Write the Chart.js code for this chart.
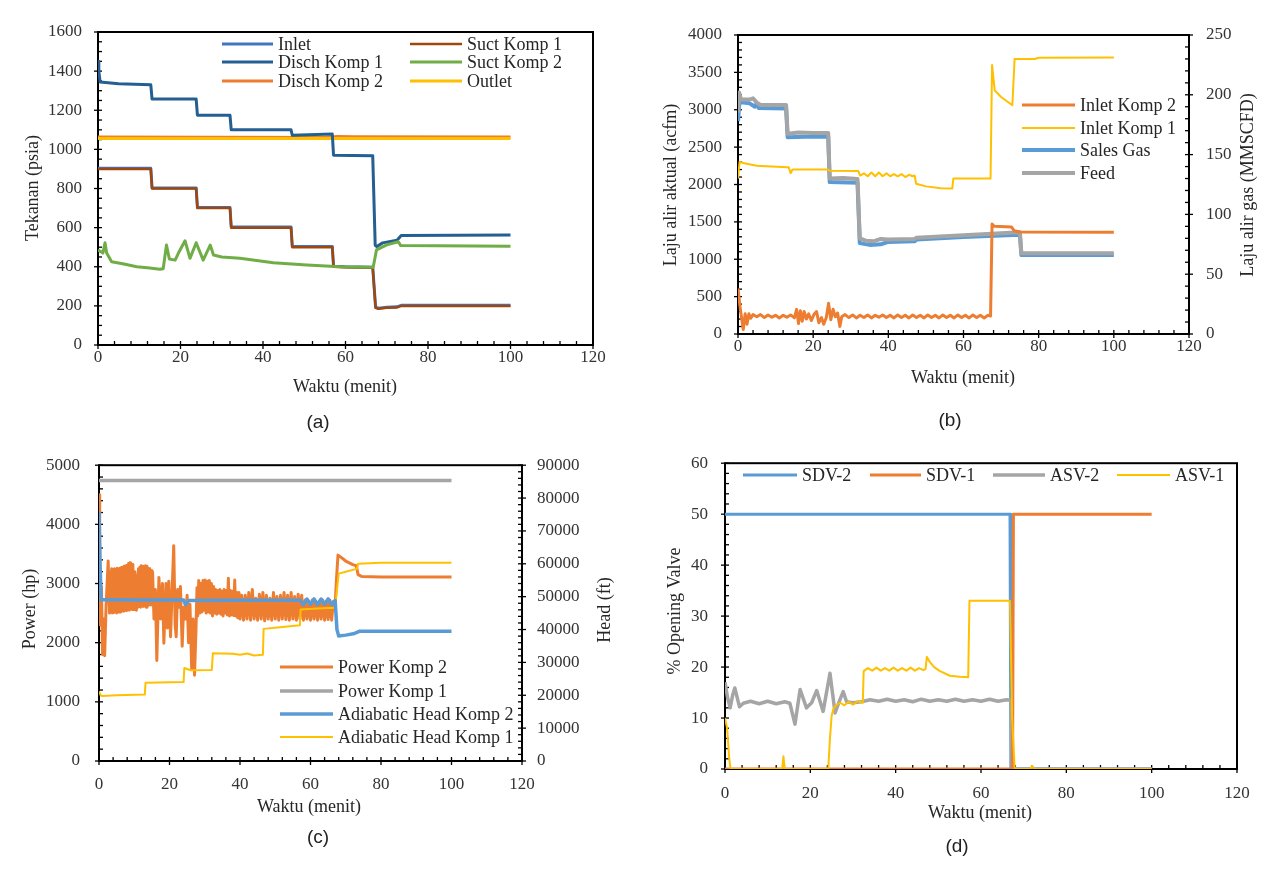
<!DOCTYPE html>
<html lang="id">
<head>
<meta charset="UTF-8" />
<title>Respon tekanan, laju alir, power dan bukaan valve</title>
<script src="https://cdn.jsdelivr.net/npm/chart.js"></script>
<style>
  body { margin: 0; background: #fff; }
  #wrap { position: relative; width: 1267px; height: 873px; background: #fff; overflow: hidden; }
  canvas { position: absolute; }
  .lbl { position: absolute; transform: translate(-50%, -50%); font: 19px 'Liberation Sans', Arial, sans-serif; color: #222; }
</style>
</head>
<body>
<div id="wrap">
  <canvas id="ca" width="633" height="436" style="left:0;top:0"></canvas>
  <canvas id="cb" width="634" height="436" style="left:633px;top:0"></canvas>
  <canvas id="cc" width="633" height="437" style="left:0;top:436px"></canvas>
  <canvas id="cd" width="634" height="437" style="left:633px;top:436px"></canvas>
  <div class="lbl" style="left:318px;top:422px">(a)</div>
  <div class="lbl" style="left:950px;top:420px">(b)</div>
  <div class="lbl" style="left:318px;top:837px">(c)</div>
  <div class="lbl" style="left:957px;top:846px">(d)</div>
</div>
<script>
const SERIF = "'Liberation Serif', 'Times New Roman', serif";

// ---------- (a) tekanan, psia ----------
const aDischK1 = [[0,1450],[0.2,1400],[0.5,1345],[5,1335],[12.8,1330],[13.1,1257],[23.8,1257],[24.1,1175],[32,1174],[32.3,1100],[46.8,1100],[47.1,1072],[56.8,1078],[57.1,970],[66.6,968],[67.2,510],[67.6,503],[69,522],[72.5,535],[73.5,560],[100,562]];
const aInlet = [[0,903],[12.8,903],[13.1,803],[23.8,803],[24.1,703],[32,703],[32.3,603],[46.8,603],[47.1,503],[56.8,503],[57.1,403],[60,400],[66.6,398],[67.3,193],[68,188],[70,193],[72.5,195],[73.5,203],[100,203]];
const aSuctK1 = [[0,900],[12.8,900],[13.1,800],[23.8,800],[24.1,700],[32,700],[32.3,600],[46.8,600],[47.1,500],[56.8,500],[57.1,400],[60,398],[66.6,395],[67.3,190],[68,185],[70,190],[72.5,192],[73.5,200],[100,200]];
const aSuctK2 = [[0,486],[1.2,470],[1.7,523],[2.1,470],[3.3,426],[6,415],[9.4,400],[12,395],[15,387],[15.8,390],[16.6,511],[17.3,440],[18.7,434],[19.5,470],[21.1,533],[22.3,443],[23.8,523],[25.5,434],[27.2,511],[28,460],[30,450],[34.4,443],[42.5,421],[50.6,409],[58.7,400],[66.7,397],[67.1,440],[67.5,486],[70,512],[72.8,528],[73.4,508],[100,505]];
const aDischK2 = [[0,1063],[55,1061],[58,1066],[62,1065],[100,1063]];
const aOutlet = [[0,1056],[50,1055],[100,1055]];

// ---------- (b) laju alir ----------
const bInletK2 = [[0,610],[0.5,380],[1.0,200],[1.4,60],[1.9,270],[2.4,130],[2.9,270],[3.4,210],[4,260],[5,230],[6,260],[7,220],[8,255],[9,225],[10,250],[11,215],[12,250],[13,225],[14,255],[15,215],[15.6,330],[16.1,140],[16.6,310],[17.1,170],[17.6,300],[18.2,200],[18.8,270],[19.5,180],[20.2,260],[20.9,300],[21.5,150],[22.2,220],[22.8,130],[23.5,220],[24.1,410],[24.7,190],[25.3,330],[25.9,230],[26.5,280],[27.1,100],[27.6,230],[28.5,260],[29.5,220],[30.5,255],[31.5,215],[32.5,250],[33.5,220],[34.5,255],[35.5,215],[36.5,250],[37.5,225],[38.5,255],[39.5,220],[40.5,250],[41.5,215],[42.5,255],[43.5,220],[44.5,250],[45.5,215],[46.5,255],[47.5,220],[48.5,250],[49.5,215],[50.5,255],[51.5,220],[52.5,250],[53.5,215],[54.5,255],[55.5,220],[56.5,250],[57.5,215],[58.5,255],[59.5,220],[60.5,250],[61.5,215],[62.5,255],[63.5,220],[64.5,250],[65.5,215],[66.5,250],[67.2,240],[67.6,1470],[68.2,1440],[72.8,1430],[73.5,1380],[75,1365],[100,1360]];
const bInletK1 = [[0,2080],[0.4,2300],[2,2280],[5,2250],[13,2230],[13.5,2230],[14.0,2150],[14.5,2200],[24,2200],[24.3,2185],[32,2180],[32.5,2120],[33.5,2150],[34.5,2110],[35.5,2160],[36.5,2110],[37.5,2160],[38.5,2110],[39.5,2150],[40.5,2110],[41.5,2140],[42.5,2110],[43.5,2140],[44.5,2100],[45.5,2130],[46.5,2110],[47.0,2120],[47.4,2010],[50,1975],[54,1950],[57.0,1945],[57.3,2080],[67.2,2080],[67.6,3600],[68.3,3260],[70,3170],[73,3060],[73.6,3680],[79,3680],[80,3695],[100,3700]];
const bSalesGas = [[0,178],[0.4,194],[3,193],[4.5,190],[5,193],[5.5,189],[12.8,188.5],[13.2,164.5],[18,165],[24,165],[24.4,127],[31.8,126.5],[32.4,76],[35,74.5],[38,75],[40,77],[47,77.5],[47.5,79],[60,81],[75,83],[75.4,66],[100,66]];
const bFeed = [[0,185],[0.3,202],[0.8,196],[3,196],[4,197],[5,193.5],[6,191.5],[12.8,191.5],[13.2,167.5],[16,168.5],[20,168],[24,168],[24.4,130],[28,130.5],[31.8,129.5],[32.4,80],[34,78],[36,77.5],[38,79.5],[40,79],[47,79.5],[47.5,80.5],[60,82.5],[75,85],[75.4,67.5],[100,67.5]];

// ---------- (c) power (hp) dan head (ft) ----------
const cPowerK2 = [[0,4500],[0.2,3200],[0.4,2300],[0.7,2950],[1.0,1800],[1.3,2400],[1.6,1780],[2.0,2600],[2.6,3380],[3.0,2500],[3.2,3200],[3.4,2520],[3.6,3250],[3.8,2500],[4.0,3220],[4.2,2510],[4.4,3250],[4.6,2530],[4.8,3230],[5.0,2500],[5.2,3260],[5.4,2520],[5.6,3240],[5.8,2550],[6.0,3260],[6.2,2520],[6.4,3270],[6.6,2540],[6.8,3280],[7.0,2530],[7.2,3290],[7.4,2550],[7.6,3300],[7.8,2540],[8.0,3310],[8.2,2560],[8.4,3340],[8.6,2550],[8.8,3350],[9.0,2570],[9.2,3300],[9.4,2560],[9.6,3320],[9.8,2580],[10.0,3200],[10.2,2560],[10.4,3150],[10.6,2550],[10.8,3000],[11.0,2600],[11.2,3250],[11.4,2610],[11.6,3280],[11.8,2600],[12.0,3300],[12.2,2620],[12.4,3290],[12.6,2610],[12.8,3280],[13.0,2620],[13.2,3300],[13.4,2600],[13.6,3290],[13.8,2620],[14.0,3260],[14.2,2640],[14.4,3250],[14.6,2650],[14.8,3220],[15.0,2640],[15.2,3200],[15.6,2400],[16.0,2900],[16.4,1700],[17.0,3100],[17.5,2400],[18.0,3000],[18.4,1990],[19.0,3000],[19.4,2250],[19.8,3040],[20.3,2100],[20.7,2800],[21.2,3640],[21.6,2300],[21.9,2100],[22.3,2900],[22.7,2600],[23.1,2950],[23.6,1940],[24.0,2600],[24.5,2400],[25.0,2800],[25.4,2000],[25.8,2650],[26.3,1550],[26.7,2400],[27.1,1450],[27.5,2200],[27.8,2930],[28.0,2450],[28.3,3050],[28.6,2500],[28.9,3000],[29.2,2520],[29.5,3050],[29.8,2550],[30.1,3060],[30.4,2500],[30.7,3040],[31.0,2520],[31.3,3050],[31.6,2500],[31.9,3000],[32.2,2450],[32.5,2950],[32.8,2500],[33.1,2900],[33.4,2480],[33.7,2880],[34.0,2500],[34.3,2900],[34.6,2480],[34.9,2870],[35.2,2450],[35.5,2900],[35.8,2500],[36.1,2880],[36.4,2470],[36.7,3090],[37.0,2450],[37.3,2880],[37.6,2470],[37.9,2870],[38.2,2460],[38.5,3060],[38.8,2450],[39.1,2850],[39.4,2420],[39.7,2850],[40.0,2400],[40.5,2800],[41.0,2380],[41.5,2800],[42.0,2400],[42.5,2850],[43.0,2380],[43.5,2900],[44.0,2400],[44.5,2750],[45.0,2380],[45.5,2820],[46.0,2400],[46.5,2850],[47.0,2370],[47.5,2800],[48.0,2400],[48.5,2750],[49.0,2380],[49.5,2850],[50.0,2400],[50.5,2780],[51.0,2380],[51.5,2800],[52.0,2400],[52.5,2850],[53.0,2390],[53.5,2800],[54.0,2380],[54.5,2850],[55.0,2400],[55.5,2780],[56.0,2380],[56.5,2820],[57.0,2400],[57.5,2800],[58.0,2380],[58.5,2720],[59.0,2400],[59.5,2700],[60.0,2380],[60.5,2720],[61.0,2400],[61.5,2700],[62.0,2380],[62.5,2700],[63.0,2400],[63.5,2720],[64.0,2380],[64.5,2700],[65.0,2390],[65.5,2720],[66.0,2380],[66.5,2700],[67.0,2650],[67.4,3100],[67.8,3480],[68.5,3450],[70.0,3380],[72.0,3320],[73.0,3300],[73.5,3150],[74.5,3120],[80.0,3110],[100,3110]];
const cPowerK1 = [[0,4742],[100,4742]];
const cHeadK2 = [[0,75800],[0.3,60000],[0.6,48900],[1,49100],[12,49000],[24,49000],[24.5,47600],[25.5,48800],[40,48900],[57,48900],[58,47600],[59,49300],[60,47700],[61,49300],[62,47600],[63,49300],[64,47700],[65,49300],[66,47600],[67,48800],[67.5,40000],[68,38000],[70,38300],[72.5,38800],[74,39500],[100,39500]];
const cHeadK1 = [[0,21200],[0.5,19900],[1,19800],[5,20000],[13,20200],[13.2,23800],[24,24000],[24.2,28300],[26,27600],[32,27700],[32.3,32800],[38,32600],[40,32300],[42,32700],[44,32100],[46.5,32300],[46.7,40200],[52,40800],[57,41300],[57.2,46100],[62,46400],[67,46600],[67.5,52000],[68,57000],[70,57600],[72.5,58300],[73.2,58500],[73.5,60000],[80,60300],[100,60300]];

// ---------- (d) % opening valve ----------
const dSDV2 = [[0,50],[66.8,50],[67.0,0],[100,0]];
const dSDV1 = [[0,0],[67.4,0],[67.6,50],[100,50]];
const dASV2 = [[0,17],[0.6,14],[1.2,12],[1.8,14.5],[2.3,15.9],[3.4,12.2],[4.3,12.9],[6,13.3],[8,12.8],[10,13.3],[12,12.8],[14,13.2],[15.2,12.9],[16.4,8.8],[17.6,15.6],[19.1,12],[20.3,13],[21.5,15.4],[23,11.3],[24.6,18.8],[25.8,11],[26.9,13.5],[27.7,15.2],[28.5,13.2],[30,13],[32,13.2],[34,13.6],[36,13.3],[38,13.7],[40,13.3],[42,13.6],[44,13.2],[46,13.7],[48,13.3],[50,13.6],[52,13.3],[54,13.7],[56,13.3],[58,13.6],[60,13.3],[62,13.7],[64,13.3],[66,13.6],[67.1,13.5],[67.3,0],[100,0]];
const dASV1 = [[0,10],[0.5,8],[1.0,2],[1.3,0],[13.4,0],[13.7,2.5],[14.0,0],[24.2,0],[24.6,6],[25.0,10.5],[25.5,12],[26,12.5],[27,13],[28,12.5],[29,13.2],[30,12.6],[31,13.3],[32.3,13],[32.5,19.2],[33.5,19.8],[34.5,19.3],[35.5,19.9],[36.5,19.3],[37.5,19.8],[38.5,19.3],[39.5,19.9],[40.5,19.3],[41.5,19.8],[42.5,19.3],[43.5,19.9],[44.5,19.3],[45.5,19.8],[46.5,19.4],[47.0,19.6],[47.3,22],[48,21],[49,20],[50.4,19.2],[52.7,18.3],[55,18.1],[57,18],[57.3,33],[66.8,33],[67.3,10],[67.9,0],[71.5,0],[72,0.6],[72.5,0],[100,0]];

// frame, inward ticks, axis titles and legend for one panel
function decor(cfg) {
  return {
    id: 'decor',
    beforeDatasetsDraw(chart) {
      const ctx = chart.ctx, a = chart.chartArea;
      ctx.save();
      ctx.strokeStyle = '#000';
      ctx.lineWidth = 2;
      ctx.strokeRect(a.left, a.top, a.right - a.left, a.bottom - a.top);
      ctx.lineWidth = 1.3;
      const tick = (s, v, major) => {
        const p = s.getPixelForValue(v), L = 4;
        ctx.beginPath();
        if (s.axis === 'x') { ctx.moveTo(p, a.bottom + (major ? L : 0)); ctx.lineTo(p, a.bottom - L); }
        else if (s.position === 'left') { ctx.moveTo(a.left - (major ? L : 0), p); ctx.lineTo(a.left + L, p); }
        else { ctx.moveTo(a.right + (major ? L : 0), p); ctx.lineTo(a.right - L, p); }
        ctx.stroke();
      };
      cfg.ticks.forEach(([id, n]) => {
        const s = chart.scales[id];
        const vals = s.ticks.map(t => t.value);
        vals.forEach((v, i) => {
          tick(s, v, true);
          if (i < vals.length - 1)
            for (let k = 1; k < n; k++) tick(s, v + (vals[i + 1] - v) * k / n, false);
        });
      });
      ctx.restore();
    },
    afterDatasetsDraw(chart) {
      const ctx = chart.ctx;
      ctx.save();
      ctx.fillStyle = '#262626';
      ctx.textBaseline = 'middle';
      ctx.font = '18px ' + SERIF;
      cfg.titles.forEach(t => {
        ctx.save();
        ctx.translate(t.x, t.y);
        if (t.rot) ctx.rotate(-Math.PI / 2);
        ctx.textAlign = 'center';
        ctx.fillText(t.text, 0, 0);
        ctx.restore();
      });
      ctx.textAlign = 'left';
      cfg.legend.forEach(l => {
        const ds = chart.data.datasets[l.i];
        ctx.strokeStyle = ds.borderColor;
        ctx.lineWidth = ds.borderWidth;
        ctx.beginPath();
        ctx.moveTo(l.x1, l.y);
        ctx.lineTo(l.x2, l.y);
        ctx.stroke();
        ctx.fillText(ds.label, l.x2 + 5, l.y + 1);
      });
      ctx.restore();
    }
  };
}

function axis(pos, min, max, step, size, pad) {
  return {
    type: 'linear', position: pos, min: min, max: max,
    grid: { display: false, drawTicks: false },
    border: { display: false },
    ticks: { stepSize: step, padding: pad, color: '#333', maxRotation: 0,
             font: { family: SERIF, size: 17 }, callback: v => v },
    afterFit: s => { if (pos === 'bottom') s.height = size; else s.width = size; }
  };
}

function line(label, data, color, width, order, yAxisID) {
  return { label: label, data: data, borderColor: color, backgroundColor: color,
           borderWidth: width, order: order, yAxisID: yAxisID || 'y', pointRadius: 0 };
}

function build(id, datasets, pad, scales, cfg) {
  return new Chart(document.getElementById(id), {
    type: 'line',
    data: { datasets: datasets },
    options: {
      responsive: false, animation: false, devicePixelRatio: 1,
      layout: { padding: { top: pad.top, right: pad.right, left: 0, bottom: 0 } },
      plugins: { legend: { display: false }, tooltip: { enabled: false } },
      elements: { point: { radius: 0 }, line: { tension: 0, fill: false, borderJoinStyle: 'round' } },
      scales: scales
    },
    plugins: [decor(cfg)]
  });
}

// (a)
build('ca', [
  line('Inlet', aInlet, '#4472C4', 3, 5),
  line('Disch Komp 1', aDischK1, '#255E91', 3, 2),
  line('Disch Komp 2', aDischK2, '#ED7D31', 3, 6),
  line('Suct Komp 1', aSuctK1, '#9E480E', 2.5, 3),
  line('Suct Komp 2', aSuctK2, '#70AD47', 3, 1),
  line('Outlet', aOutlet, '#FFC000', 3, 4)
], { top: 32, right: 40 }, {
  x: axis('bottom', 0, 120, 20, 91, 2),
  y: axis('left', 0, 1600, 200, 98, 16)
}, {
  ticks: [['x', 5], ['y', 4]],
  titles: [
    { text: 'Tekanan (psia)', x: 33, y: 188, rot: true },
    { text: 'Waktu (menit)', x: 345, y: 387 }
  ],
  legend: [
    { i: 0, x1: 222, x2: 273, y: 44 }, { i: 1, x1: 222, x2: 273, y: 62 }, { i: 2, x1: 222, x2: 273, y: 81 },
    { i: 3, x1: 410, x2: 462, y: 44 }, { i: 4, x1: 410, x2: 462, y: 62 }, { i: 5, x1: 410, x2: 462, y: 81 }
  ]
});

// (b)
build('cb', [
  line('Inlet Komp 2', bInletK2, '#ED7D31', 3, 2),
  line('Inlet Komp 1', bInletK1, '#FFC000', 2, 1),
  line('Sales Gas', bSalesGas, '#5B9BD5', 4, 4, 'y2'),
  line('Feed', bFeed, '#A5A5A5', 4, 3, 'y2')
], { top: 35, right: 0 }, {
  x: axis('bottom', 0, 120, 20, 102, 2),
  y: axis('left', 0, 4000, 500, 105, 16),
  y2: axis('right', 0, 250, 50, 78, 17)
}, {
  ticks: [['x', 5], ['y', 5], ['y2', 5]],
  titles: [
    { text: 'Laju alir aktual (acfm)', x: 38, y: 185, rot: true },
    { text: 'Laju alir gas (MMSCFD)', x: 615, y: 185, rot: true },
    { text: 'Waktu (menit)', x: 330, y: 378 }
  ],
  legend: [
    { i: 0, x1: 389, x2: 442, y: 105 }, { i: 1, x1: 389, x2: 442, y: 128 },
    { i: 2, x1: 389, x2: 442, y: 150 }, { i: 3, x1: 389, x2: 442, y: 173 }
  ]
});

// (c)
build('cc', [
  line('Power Komp 2', cPowerK2, '#ED7D31', 3, 3),
  line('Power Komp 1', cPowerK1, '#A5A5A5', 3.5, 4),
  line('Adiabatic Head Komp 2', cHeadK2, '#5B9BD5', 3.5, 1, 'y2'),
  line('Adiabatic Head Komp 1', cHeadK1, '#FFC000', 2, 2, 'y2')
], { top: 21, right: 0 }, {
  x: axis('bottom', 0, 120, 20, 112, 13),
  y: axis('left', 0, 5000, 1000, 99, 19),
  y2: axis('right', 0, 90000, 10000, 111, 15)
}, {
  ticks: [['x', 5], ['y', 5], ['y2', 5]],
  titles: [
    { text: 'Power (hp)', x: 30, y: 173, rot: true },
    { text: 'Head (ft)', x: 605, y: 174, rot: true },
    { text: 'Waktu (menit)', x: 309, y: 371 }
  ],
  legend: [
    { i: 0, x1: 280, x2: 333, y: 231 }, { i: 1, x1: 280, x2: 333, y: 255 },
    { i: 2, x1: 280, x2: 333, y: 278 }, { i: 3, x1: 280, x2: 333, y: 301 }
  ]
});

// (d)
build('cd', [
  line('SDV-2', dSDV2, '#5B9BD5', 3, 4),
  line('SDV-1', dSDV1, '#ED7D31', 3, 2),
  line('ASV-2', dASV2, '#A5A5A5', 3.5, 3),
  line('ASV-1', dASV1, '#FFC000', 2, 1)
], { top: 18, right: 30 }, {
  x: axis('bottom', 0, 120, 20, 104, 14),
  y: axis('left', 0, 60, 10, 92, 17)
}, {
  ticks: [['x', 5], ['y', 5]],
  titles: [
    { text: '% Opening Valve', x: 42, y: 175, rot: true },
    { text: 'Waktu (menit)', x: 347, y: 377 }
  ],
  legend: [
    { i: 0, x1: 110, x2: 164, y: 39 }, { i: 1, x1: 237, x2: 288, y: 39 },
    { i: 2, x1: 360, x2: 412, y: 39 }, { i: 3, x1: 484, x2: 537, y: 39 }
  ]
});
</script>
</body>
</html>
